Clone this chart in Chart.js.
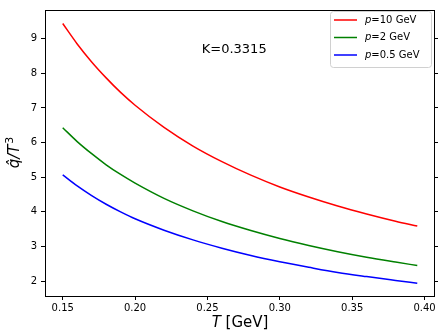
<!DOCTYPE html>
<html>
<head>
<meta charset="utf-8">
<script src="https://cdn.jsdelivr.net/npm/chart.js@4.4.0/dist/chart.umd.min.js"></script>
<style>
  body { margin: 0; background: #fff; }
  canvas { display: block; }
</style>
</head>
<body>
<canvas id="qhatChart" width="438" height="333"></canvas>
<script>
// temperature points (GeV)
const temps = [0.15, 0.16, 0.17, 0.18, 0.19, 0.20, 0.22, 0.24, 0.26, 0.28, 0.30, 0.32, 0.34, 0.36, 0.38, 0.395];
// qhat/T^3
const qhatP10 = [9.44, 8.85, 8.33, 7.87, 7.45, 7.08, 6.44, 5.90, 5.45, 5.06, 4.72, 4.43, 4.17, 3.94, 3.73, 3.59];
const qhatP2 = [6.43, 6.03, 5.68, 5.36, 5.08, 4.83, 4.39, 4.03, 3.72, 3.46, 3.23, 3.03, 2.85, 2.69, 2.55, 2.45];
const qhatP05 = [5.07, 4.75, 4.47, 4.22, 4.00, 3.80, 3.47, 3.19, 2.95, 2.74, 2.56, 2.40, 2.25, 2.13, 2.02, 1.94];
const seriesLabels = ['p=10 GeV', 'p=2 GeV', 'p=0.5 GeV'];
const seriesColors = ['#ff0000', '#008000', '#0000ff'];
const xTicks = [0.15, 0.20, 0.25, 0.30, 0.35, 0.40];
const yTicks = [2, 3, 4, 5, 6, 7, 8, 9];
const kLabel = 'K=0.3315';

const FONT = '"DejaVu Sans", sans-serif';

function toPoints(ys) {
    return temps.map((t, i) => ({ x: t, y: ys[i] }));
}

const datasets = [qhatP10, qhatP2, qhatP05].map((ys, i) => ({
    label: seriesLabels[i],
    data: toPoints(ys),
    borderColor: seriesColors[i],
    backgroundColor: seriesColors[i],
    borderWidth: 1.5,
    pointRadius: 0,
    cubicInterpolationMode: 'monotone',
    fill: false
}));

// frame, axis titles, legend box and the K label
const decorations = {
    id: 'decorations',
    afterDraw(chart) {
        const ctx = chart.ctx;
        const a = chart.chartArea;
        const xs = chart.scales.x, ys = chart.scales.y;
        ctx.save();

        // frame
        ctx.strokeStyle = '#000';
        ctx.lineWidth = 1;
        ctx.strokeRect(Math.round(a.left) + 0.5, Math.round(a.top) + 0.5,
            Math.round(a.right - a.left) - 1, Math.round(a.bottom - a.top));

        ctx.fillStyle = '#000';
        ctx.textBaseline = 'middle';

        // K label
        ctx.font = '13px ' + FONT;
        ctx.textAlign = 'center';
        ctx.fillText(kLabel, xs.getPixelForValue(0.2685), ys.getPixelForValue(8.68));

        // x title: T [GeV]
        ctx.textAlign = 'left';
        ctx.font = 'italic 15px ' + FONT;
        const tW = ctx.measureText('T').width;
        ctx.font = '15px ' + FONT;
        const restW = ctx.measureText(' [GeV]').width;
        const cx = (a.left + a.right) / 2;
        const x0 = cx - (tW + restW) / 2;
        ctx.font = 'italic 15px ' + FONT;
        ctx.fillText('T', x0, 323);
        ctx.font = '15px ' + FONT;
        ctx.fillText(' [GeV]', x0 + tW, 323);

        // y title: q^/T^3
        ctx.save();
        ctx.translate(15, (a.top + a.bottom) / 2);
        ctx.rotate(-Math.PI / 2);
        ctx.font = 'italic 15px ' + FONT;
        const main = 'q\u0302/T';
        const mW = ctx.measureText(main).width;
        ctx.font = '11px ' + FONT;
        const sW = ctx.measureText('3').width;
        const sx = -(mW + sW) / 2;
        ctx.font = 'italic 15px ' + FONT;
        ctx.fillText(main, sx, 0);
        ctx.font = '11px ' + FONT;
        ctx.fillText('3', sx + mW + 1, -5);
        ctx.restore();

        // legend
        const bx = 330, by = 11, bw = 101, bh = 56;
        ctx.beginPath();
        ctx.roundRect(bx + 0.5, by + 0.5, bw, bh, 3);
        ctx.fillStyle = 'rgba(255,255,255,0.8)';
        ctx.fill();
        ctx.strokeStyle = '#d0d0d0';
        ctx.stroke();
        chart.data.datasets.forEach((ds, i) => {
            const ry = 20 + i * 17.5;
            ctx.strokeStyle = ds.borderColor;
            ctx.lineWidth = 1.5;
            ctx.beginPath();
            ctx.moveTo(334, ry);
            ctx.lineTo(357, ry);
            ctx.stroke();
            ctx.fillStyle = '#000';
            ctx.font = 'italic 10px ' + FONT;
            ctx.fillText(ds.label.charAt(0), 365, ry);
            const pw = ctx.measureText(ds.label.charAt(0)).width;
            ctx.font = '10px ' + FONT;
            ctx.fillText(ds.label.slice(1), 365 + pw, ry);
        });

        ctx.restore();
    }
};

const ctx = document.getElementById('qhatChart').getContext('2d');
new Chart(ctx, {
    type: 'line',
    data: { datasets: datasets },
    options: {
        responsive: false,
        animation: false,
        layout: { padding: { top: 5, right: 0, left: 0, bottom: 0 } },
        plugins: {
            legend: { display: false },
            tooltip: { enabled: false }
        },
        scales: {
            x: {
                type: 'linear',
                min: 0.13775,
                max: 0.40725,
                afterBuildTicks: s => { s.ticks = xTicks.map(v => ({ value: v })); },
                afterFit: s => { s.height = 37; },
                border: { display: false },
                grid: { drawOnChartArea: false, drawTicks: true, tickLength: 4, color: '#000' },
                ticks: {
                    padding: 2,
                    color: '#000',
                    font: { family: FONT, size: 10 },
                    maxRotation: 0,
                    callback: v => v.toFixed(2)
                }
            },
            y: {
                min: 1.57,
                max: 9.83,
                afterBuildTicks: s => { s.ticks = yTicks.map(v => ({ value: v })); },
                afterFit: s => { s.width = 45; },
                border: { display: false },
                grid: { drawOnChartArea: false, drawTicks: true, tickLength: 4, color: '#000' },
                ticks: {
                    padding: 4,
                    color: '#000',
                    font: { family: FONT, size: 10 },
                    callback: v => String(v)
                }
            },
            y2: {
                position: 'right',
                min: 1.57,
                max: 9.83,
                afterBuildTicks: s => { s.ticks = yTicks.map(v => ({ value: v })); },
                afterFit: s => { s.width = 3; },
                border: { display: false },
                grid: { drawOnChartArea: false, drawTicks: true, tickLength: 3, color: '#000' },
                ticks: { display: false }
            }
        }
    },
    plugins: [decorations]
});
</script>
</body>
</html>
